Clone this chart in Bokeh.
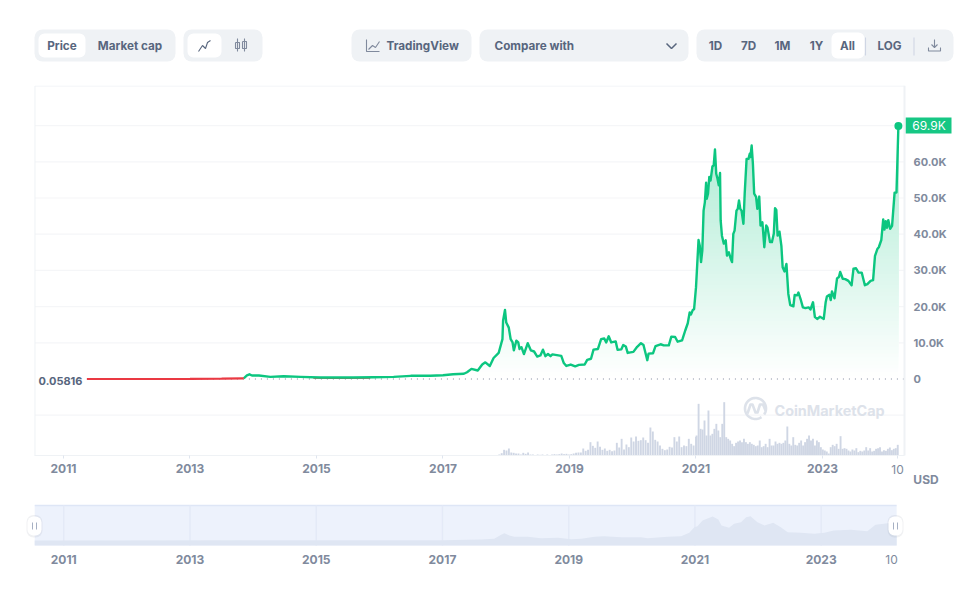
import numpy as np
from bokeh.plotting import figure
from bokeh.layouts import column
from bokeh.models import Range1d, FixedTicker, LinearAxis, Label
from bokeh.core.properties import value
from bokeh.embed import file_html
from bokeh.resources import INLINE

# ---------- data ----------
price_years = [2011.37,2012.0,2013.0,2013.5,2013.85,2013.90,2013.94,2013.98,2014.09,2014.27,2014.48,2014.75,2015.06,2015.58,2015.90,2016.22,2016.49,2016.80,
 2017.0,2017.16,2017.33,2017.38,2017.45,2017.55,2017.62,2017.67,2017.74,2017.80,2017.88,2017.94,2017.95,2017.98,2018.0,2018.04,2018.07,2018.10,2018.12,2018.16,2018.19,2018.21,2018.24,2018.28,2018.34,2018.39,2018.44,2018.49,2018.54,2018.58,2018.62,2018.66,2018.70,2018.73,2018.87,2018.91,2018.95,
 2019.02,2019.09,2019.15,2019.24,2019.28,2019.34,2019.38,2019.45,2019.50,2019.55,2019.58,2019.62,2019.66,2019.73,2019.76,2019.82,2019.85,2019.89,2019.92,
 2020.01,2020.07,2020.13,2020.17,2020.23,2020.25,2020.32,2020.36,2020.44,2020.49,2020.57,2020.61,2020.67,2020.71,2020.78,2020.79,2020.83,2020.87,2020.90,2020.92,2020.95,2020.97,
 2021.0,2021.02,2021.04,2021.06,2021.08,2021.10,2021.12,2021.14,2021.16,2021.17,2021.19,2021.21,2021.23,2021.26,2021.28,2021.30,2021.32,2021.34,2021.36,2021.38,2021.39,2021.41,2021.44,2021.47,2021.49,2021.52,2021.55,2021.57,2021.59,2021.61,2021.64,2021.66,2021.68,2021.70,2021.72,2021.75,2021.77,2021.80,2021.83,2021.85,2021.86,2021.88,2021.90,2021.92,2021.95,2021.97,
 2022.0,2022.02,2022.05,2022.08,2022.11,2022.13,2022.17,2022.20,2022.23,2022.25,2022.27,2022.29,2022.32,2022.35,2022.37,2022.40,2022.43,2022.46,2022.49,2022.54,2022.56,2022.60,2022.62,2022.66,2022.69,2022.73,2022.78,2022.81,2022.85,2022.88,2022.92,2022.96,
 2023.02,2023.05,2023.07,2023.11,2023.13,2023.15,2023.19,2023.23,2023.26,2023.28,2023.32,2023.36,2023.41,2023.46,2023.49,2023.53,2023.57,2023.62,2023.67,2023.71,2023.76,2023.80,2023.83,2023.87,2023.89,2023.93,2023.96,2023.98,
 2024.0,2024.02,2024.04,2024.07,2024.10,2024.14,2024.17,2024.20]
price_k = [0.0,0.005,0.02,0.1,0.2,1.0,1.3,0.97,0.97,0.6,0.77,0.6,0.41,0.41,0.5,0.6,0.88,0.88,
 1.05,1.33,1.44,1.87,2.8,2.35,4.0,4.6,3.6,5.8,7.2,11.0,16.1,19.1,15.6,14.2,11.0,10.1,7.9,10.6,10.1,8.3,8.8,6.9,9.9,7.9,7.6,6.2,6.5,8.1,6.3,6.9,6.3,6.8,6.4,4.4,3.6,
 4.0,3.5,3.9,4.0,5.3,5.6,8.1,8.3,11.0,11.2,10.1,11.8,10.1,10.4,8.1,8.2,9.4,9.0,7.2,
 7.5,8.9,9.9,9.4,5.2,7.0,7.1,9.1,9.6,9.3,9.3,11.7,11.6,10.3,10.7,11.2,13.4,15.4,18.4,17.8,19.1,19.3,
 25.3,31.8,38.4,36.8,32.3,35.5,46.5,48.8,54.2,49.8,51.2,55.8,54.8,58.7,59.0,63.4,56.7,55.3,53.5,56.9,43.8,39.6,37.4,38.3,34.1,35.0,33.2,32.3,40.1,41.0,46.5,47.0,49.3,47.0,46.5,42.9,51.2,60.8,60.8,62.2,61.3,64.5,59.4,51.2,50.3,47.0,
 50.4,42.4,43.3,36.4,42.4,41.9,37.8,37.8,40.1,47.2,46.7,39.6,40.7,36.8,30.9,29.7,31.8,23.5,20.4,20.1,23.2,23.1,23.9,21.7,19.8,19.6,19.8,19.2,21.2,17.1,16.6,17.2,
 16.6,21.2,22.8,23.3,21.8,24.2,22.3,27.8,28.2,29.6,27.7,27.6,27.1,25.9,30.5,30.6,29.4,29.4,25.9,26.2,27.1,27.3,34.0,36.0,36.4,38.4,44.1,41.3,
 43.6,41.8,43.9,41.5,42.3,51.5,51.5,69.9]
red_years = [2011.37,2012.0,2013.0,2013.5,2013.85]
red_k = [0.0,0.005,0.02,0.1,0.2]
red2_years = [2014.95,2015.2,2015.5,2015.85]
red2_k = [0.3,0.22,0.2,0.3]

# traded volume, USD billions
vol_a = [6,14,34,30,42,18,16,12,12,6,16,10,18,6,6,2,6,4,6,2,6,2,6,8,6,8,12,8,10,6,8,12,16,18,18,42,28,34,80,58,46,84,52,34,42,28,34,26,30,76,48,100,36,66,50,108,84,114,88,92,108,92,76,168,144,94,84,60,40,32,36,52,48,110,84,114,50,60,56,100,70,60,112]
vol_b = [120,310,160,156,210,120,270,120,130,160,190,150,110,190,320,110,100,90,70,56,76,84,90,80,100,80,70,80,70,64,56,60,90,50,56,70,50,100,60,60,84,70,76,70,76,90,174,70,60,110,64,60,76,90,60,80,100,120,90,100,60,90,80,50,36,30,24,12,50,64,56,70,40,116,40,44,40,30,24,36,30,44,20,28,24,30,50,30,44,24,28,40,44,50,24,32,28,40,48,32,40,44,64]
vol_a_span = (2017.89, 2021.0)
vol_b_span = (2021.01, 2024.19)

nav_years = [2010.54,2017.0,2017.4,2017.61,2017.82,2017.93,2017.98,2018.06,2018.14,2018.35,2018.56,2018.83,2019.04,2019.20,2019.41,2019.56,2019.83,2020.14,2020.25,2020.57,2020.78,2020.91,2020.99,2021.04,2021.12,2021.28,2021.37,2021.42,2021.54,2021.62,2021.73,2021.81,2021.88,2021.99,2022.10,2022.24,2022.36,2022.47,2022.68,2022.89,2023.05,2023.20,2023.47,2023.73,2023.86,2023.99,2024.195]
nav_k = [0,1.0,1.8,2.7,4.5,15.2,19.7,13.4,9.9,9.9,6.3,7.2,3.6,4.5,9.9,11.6,9,9,6.3,9.9,11.6,20.6,35.8,38.5,53.8,64.5,56.5,40.3,34,44.8,49.3,62.7,65.4,49.3,40.3,47.5,35.8,22.4,20.6,17.9,20.6,26.9,28.7,25,42.1,44.8,49.3]

year_ticks = [2011,2013,2015,2017,2019,2021,2023]
last_tick = 2024.19
price_ticks = [0,10,20,30,40,50,60]
grid_ticks = [-10,10,20,30,40,50,60,70]
last_label = "69.9K"
first_label = "0.05816"

GREEN = "#16c784"; LINE = "#0cc680"; RED = "#ea3943"; INK = "#58667e"; MUTED = "#808a9d"; PALE = "#eff2f5"
FONT = "Inter"

def newfig(w, h, xr, yr, **kw):
    p = figure(width=w, height=h, x_range=xr, y_range=yr, output_backend="svg",
               toolbar_location=None, tools="", frame_align=False, min_border=0, **kw)
    p.background_fill_color = "white"
    p.border_fill_color = "white"
    p.outline_line_color = None
    p.grid.visible = False
    return p

# ---------- control bar ----------
c = newfig(965, 85, Range1d(0, 965), Range1d(85, 0))
c.axis.visible = False
def pill(l, r, t, b, col, rad):
    c.quad(left=l, right=r, top=t, bottom=b, fill_color=col, line_color=None, border_radius=rad)
for l, r in [(34,175),(183,262),(351,471),(479,688),(696,953)]:
    pill(l, r, 29, 61, PALE, 8)
pill(38, 85, 33, 57, "white", 6)
pill(187, 221, 33, 57, "white", 6)
pill(831, 864, 32, 58, "white", 6)
def label(x, y, t, align="center"):
    c.text([x], [y], text=[t], text_font=value(FONT), text_font_style="bold", text_font_size="11.7px",
           text_color=INK, text_align=align, text_baseline="middle")
for x, t in [(61.5,"Price"),(129.5,"Market cap"),(715,"1D"),(748,"7D"),(782,"1M"),(816,"1Y"),(847,"All"),(889,"LOG")]:
    label(x, 45, t)
label(386, 45, "TradingView", "left")
label(494, 45, "Compare with", "left")
def icon(xs, ys, col=MUTED, w=1.1):
    c.line(xs, ys, line_color=col, line_width=w)
icon([198,202,205,207,210],[51,45,48,42,40], INK)                # line chart
for cx, t, b, tt, bb in [(237,42,48,38,51),(244,41,48,38,51)]:   # candles
    icon([cx,cx],[tt,bb])
    icon([cx-2,cx+2,cx+2,cx-2,cx-2],[t,t,b,b,t])
icon([366,366,379],[39,51,51])                                   # tradingview
icon([368,372,375,379],[49,45,47,41])
icon([666,671,676],[43,48,43], INK, 1.5)                         # chevron
icon([865,865],[37,55],"#cfd6e4")
icon([913.5,913.5],[37,55],"#cfd6e4")
icon([934,934],[39,47]); icon([931,934,937],[44,47,44])           # download
icon([928,928,940,940],[47,50.5,50.5,47])

# ---------- main chart: the frame spans the whole figure, the plot box is drawn inside it ----------
X_L, X_R = 2010.549, 2024.297        # plot box, in years
Y_B, Y_T = -21.13, 81.08             # plot box, in USD thousands
m = newfig(965, 410, Range1d(2010.004, 2025.261), Range1d(-32.18, 81.08))
m.extra_x_ranges["pxx"] = Range1d(0, 965)
m.extra_y_ranges["pxy"] = Range1d(495, 85)
m.extra_y_ranges["vol"] = Range1d(-240, 2220)

m.segment(x0=[X_L]*len(grid_ticks), x1=[X_R]*len(grid_ticks), y0=grid_ticks, y1=grid_ticks,
          line_color="#f5f6f8", line_width=1.2)
m.line([X_L, X_L, X_R], [Y_B, Y_T - 0.14, Y_T - 0.14], line_color=PALE, line_width=1)

ax = m.xaxis[0]
ax.fixed_location = Y_B
ax.bounds = (X_L, X_R)
ax.ticker = FixedTicker(ticks=year_ticks + [last_tick])
ax.major_label_overrides = {**{y: str(y) for y in year_ticks}, last_tick: ""}
ax.major_label_text_font = FONT
ax.major_label_text_font_style = "bold"
ax.major_label_text_font_size = "12px"
ax.major_label_text_color = MUTED
ax.major_label_standoff = 6
ax.major_tick_out = 3; ax.major_tick_in = 0; ax.minor_tick_line_color = None
ax.major_tick_line_color = "#dfe5ee"
ax.axis_line_color = PALE
m.yaxis.visible = False

ay = LinearAxis(ticker=FixedTicker(ticks=price_ticks), fixed_location=X_R, bounds=(Y_B, Y_T),
                major_label_overrides={t: ("0" if t == 0 else f"{t}.0K") for t in price_ticks})
ay.major_label_text_font = FONT
ay.major_label_text_font_style = "bold"
ay.major_label_text_font_size = "11px"
ay.major_label_text_color = MUTED
ay.major_label_standoff = 3
ay.major_tick_line_color = None; ay.minor_tick_line_color = None
ay.axis_line_color = PALE; ay.axis_line_width = 2
m.add_layout(ay, "right")

py = np.array(price_years); pk = np.array(price_k)
# gradient fill: opaque bands painted from the bottom up, tint grows with price
def tint(level):
    a = min(level / 190.0, 1.0)
    r, g, b = (round(255 + (c0 - 255) * a) for c0 in (0x16, 0xc7, 0x84))
    return f"#{r:02x}{g:02x}{b:02x}"
for lv in np.arange(0, 66, 1.0):
    s = pk - lv
    idx = np.where(s[:-1] * s[1:] < 0)[0]
    xc = py[idx] + (lv - pk[idx]) / (pk[idx + 1] - pk[idx]) * (py[idx + 1] - py[idx])
    xs = np.sort(np.r_[py, xc])
    ys = np.interp(xs, py, pk)
    m.varea(xs, np.minimum(ys, lv), ys, fill_color=tint(lv))

# volume
va = np.linspace(*vol_a_span, len(vol_a)); vb = np.linspace(*vol_b_span, len(vol_b))
m.vbar(x=np.r_[va, vb], top=np.r_[vol_a, vol_b], bottom=0, width=0.03, fill_color="#cfd6e4",
       line_color=None, y_range_name="vol")

# baseline, lines
m.line([price_years[0], X_R], [0, 0], line_color=MUTED, line_dash="1 5", line_width=1)
m.line(red2_years, red2_k, line_color=RED, line_width=1.5)
m.line(price_years[4:], price_k[4:], line_color=LINE, line_width=2.4, line_join="round")
m.line(red_years, red_k, line_color=RED, line_width=2.2)
m.scatter([price_years[-1]], [price_k[-1]], size=8, marker="circle", fill_color=LINE, line_color=None)

# watermark
WM = "#dde2ea"
t = np.radians(np.linspace(55, 395, 60))
m.line(755 + 10.5*np.cos(t), 408 + 10.5*np.sin(t), line_color=WM, line_width=2.6,
       x_range_name="pxx", y_range_name="pxy")
m.line([747,750,752,755,757,759.5,762.5,765],[413,404,404,412,412,404,404,410], line_color=WM, line_width=2.6,
       line_join="round", x_range_name="pxx", y_range_name="pxy")

# last-price tag
m.quad(left=905, right=951, top=117, bottom=133, fill_color=GREEN, line_color=None,
       x_range_name="pxx", y_range_name="pxy")

def mlabel(x, y, text, **kw):
    kw.setdefault("text_font", FONT)
    kw.setdefault("text_font_size", "12px")
    kw.setdefault("text_baseline", "middle")
    kw.setdefault("text_align", "center")
    m.add_layout(Label(x=x, y=y, x_range_name="pxx", y_range_name="pxy", text=text, **kw))
mlabel(774, 410, "CoinMarketCap", text_font_style="bold", text_font_size="14.4px", text_color=WM, text_align="left")
mlabel(82, 380, first_label, text_font_style="bold", text_font_size="11px", text_color=INK, text_align="right")
mlabel(928.5, 125, last_label, text_color="white")
mlabel(897, 469, "10", text_color=MUTED)
mlabel(925.5, 478.5, "USD", text_font_style="bold", text_color=MUTED)

# ---------- navigator: frame spans the whole figure too ----------
N_B, N_T = -13.4, 94.1
n = newfig(965, 85, Range1d(2009.998, 2025.286), Range1d(-107.46, 120.98))
n.extra_x_ranges["pxx"] = Range1d(0, 965)
n.extra_y_ranges["pxy"] = Range1d(580, 495)
nx = n.xaxis[0]
nx.fixed_location = N_B
nx.ticker = FixedTicker(ticks=year_ticks)
nx.major_label_overrides = {y: str(y) for y in year_ticks}
nx.major_label_text_font = FONT
nx.major_label_text_font_style = "bold"
nx.major_label_text_font_size = "12px"
nx.major_label_text_color = MUTED
nx.major_label_standoff = 3
nx.major_tick_line_color = None; nx.minor_tick_line_color = None; nx.axis_line_color = None
n.yaxis.visible = False

n.quad(left=nav_years[0], right=nav_years[-1], bottom=N_B, top=N_T, fill_color="#edf2fc", line_color=None)
n.line([nav_years[0], nav_years[-1]], [N_T, N_T], line_color="#dee6f6", line_width=1.5)
n.segment(x0=year_ticks, x1=year_ticks, y0=[N_B]*7, y1=[N_T]*7, line_color="#e4eaf7", line_width=1.5)
n.varea(nav_years, [N_B]*len(nav_years), nav_k, fill_color="#dfe6f3")
for cx in (34, 895):
    n.quad(left=cx-8, right=cx+8, top=514.5, bottom=537, fill_color="#808a9d", fill_alpha=0.12, line_color=None,
           border_radius=7, x_range_name="pxx", y_range_name="pxy")
    n.quad(left=cx-7, right=cx+7, top=516, bottom=535, fill_color="white", line_color=None,
           border_radius=6, x_range_name="pxx", y_range_name="pxy")
    n.segment(x0=[cx-2, cx+2], x1=[cx-2, cx+2], y0=[522, 522], y1=[529, 529], line_color="#a6b0c3", line_width=1,
              x_range_name="pxx", y_range_name="pxy")
n.add_layout(Label(x=891, y=559, x_range_name="pxx", y_range_name="pxy", text="10",
                   text_font=FONT, text_font_size="12px", text_color=MUTED, text_baseline="middle",
                   text_align="center"))

page = column(c, m, n, spacing=0)
open("out.html", "w").write(file_html(page, INLINE))
